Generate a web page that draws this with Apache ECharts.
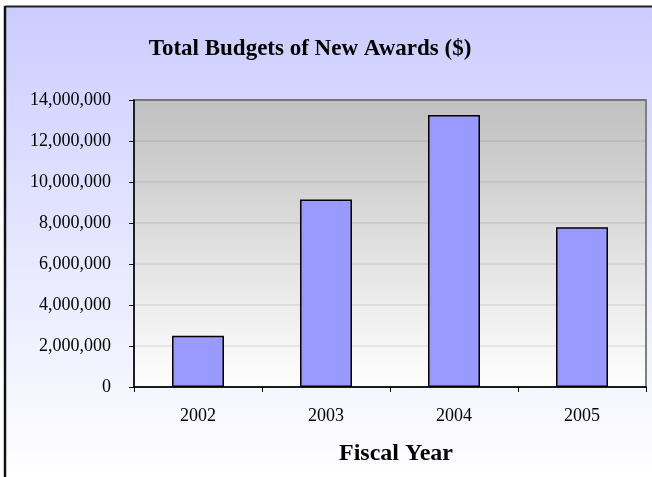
<!DOCTYPE html>
<html>
<head>
<meta charset="utf-8">
<script src="https://cdn.jsdelivr.net/npm/echarts@6/dist/echarts.min.js"></script>
<style>
html,body{margin:0;padding:0;background:#fff;}
#c{width:652px;height:477px;}
</style>
</head>
<body>
<div id="c"></div>
<script>
const categories = ['2002', '2003', '2004', '2005'];
const budgets = [2500000, 9150000, 13270000, 7790000];
const yTicks = { min: 0, max: 14000000, interval: 2000000 };

const chart = echarts.init(document.getElementById('c'), null, { renderer: 'canvas' });
const serif = '"Liberation Serif", "Times New Roman", serif';

chart.setOption({
  animation: false,
  backgroundColor: '#ffffff',
  graphic: [
    {
      type: 'rect', z: -10, silent: true,
      shape: { x: 5, y: 7, width: 647, height: 470 },
      style: {
        fill: new echarts.graphic.LinearGradient(0, 0, 0, 1, [
          { offset: 0, color: '#ccccff' },
          { offset: 1, color: '#ffffff' }
        ])
      }
    },
    { type: 'line', z: -5, silent: true, shape: { x1: 5, y1: 6.5, x2: 652, y2: 6.5 }, style: { stroke: '#222', lineWidth: 2 } },
    { type: 'line', z: -5, silent: true, shape: { x1: 5, y1: 6, x2: 5, y2: 477 }, style: { stroke: '#111', lineWidth: 2.5 } }
  ],
  title: {
    text: 'Total Budgets of New Awards ($)',
    left: 305, top: 33, textAlign: 'center',
    textStyle: { fontFamily: serif, fontSize: 23, fontWeight: 'bold', color: '#000' }
  },
  grid: {
    left: 134, top: 100, right: 6, bottom: 90,
    show: true,
    borderColor: '#808080', borderWidth: 2,
    backgroundColor: new echarts.graphic.LinearGradient(0, 0, 0, 1, [
      { offset: 0, color: '#c0c0c0' },
      { offset: 1, color: '#ffffff' }
    ])
  },
  xAxis: {
    type: 'category',
    data: categories,
    name: 'Fiscal Year',
    nameLocation: 'middle',
    nameGap: 55,
    nameTextStyle: { fontFamily: serif, fontSize: 24, fontWeight: 'bold', color: '#000', padding: [0, 0, 0, 12] },
    axisLine: { lineStyle: { color: '#000', width: 1.5 } },
    axisTick: { show: true, length: 5, lineStyle: { color: '#000', width: 1 } },
    axisLabel: { fontFamily: serif, fontSize: 18, color: '#000', margin: 20 },
    splitLine: { show: false }
  },
  yAxis: {
    type: 'value',
    min: yTicks.min, max: yTicks.max, interval: yTicks.interval,
    axisLine: { show: true, lineStyle: { color: '#000', width: 1.5 } },
    axisTick: { show: true, length: 5, lineStyle: { color: '#000', width: 1 } },
    axisLabel: {
      fontFamily: serif, fontSize: 18, color: '#000', margin: 23,
      formatter: v => v.toLocaleString('en-US')
    },
    splitLine: { show: true, lineStyle: { color: 'rgba(0,0,0,0.09)', width: 1.5 } }
  },
  series: [{
    type: 'bar',
    data: budgets,
    barWidth: '40.6%',
    itemStyle: { color: '#9999ff', borderColor: '#000', borderWidth: 1.5 }
  }]
});
</script>
</body>
</html>
